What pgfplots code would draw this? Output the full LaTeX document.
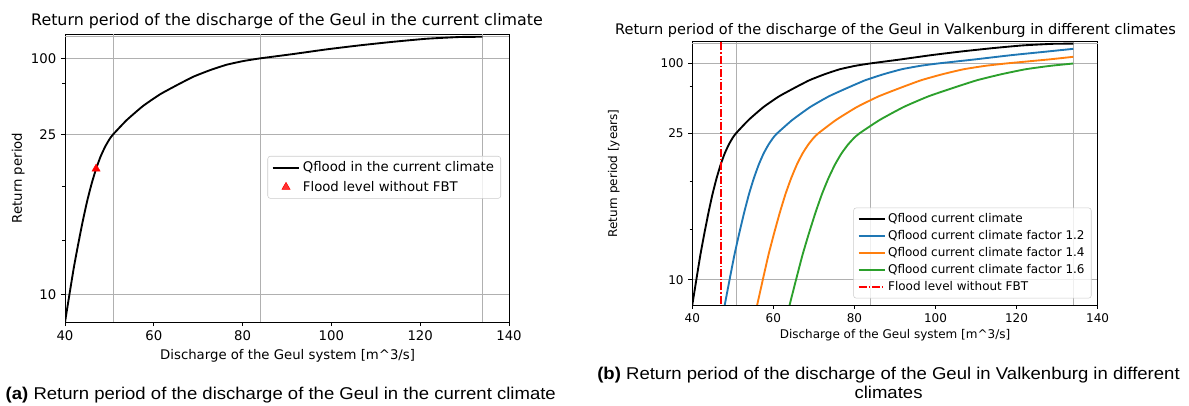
\documentclass[border=0pt]{standalone}
\usepackage{pgfplots}
\pgfplotsset{compat=1.18}
\usepackage{pgfplotstable}
\usepackage{fontspec}
\setmainfont{DejaVu Sans}
\newfontfamily\capfont{Liberation Sans}

\definecolor{mplblue}{HTML}{1F77B4}
\definecolor{mplorange}{HTML}{FF7F0E}
\definecolor{mplgreen}{HTML}{2CA02C}
\definecolor{gridgray}{HTML}{B0B0B0}

% Return period T [years] versus discharge Q [m^3/s]
\pgfplotstableread{
Q T
40 9.09
41 10.0
42 11.1
43 12.3
44 13.7
45 15.3
46 17.0
47 18.8
48 20.6
49 22.3
50 23.9
50.8 25.0
53.9 29.1
57.6 34.7
61.4 41.2
65.2 48.5
68.9 57.7
72.7 68.2
76.4 79.7
80.2 90.3
84 100
91.4 120.7
98.9 156
106.4 208
113.9 298
121.5 466
129 690
134 750
}\base

\pgfplotstableread{
Q T
48 9.09
49.2 10.0
50.4 11.1
51.6 12.3
52.8 13.7
54 15.3
55.2 17.0
56.4 18.8
57.6 20.6
58.8 22.3
60 23.9
60.96 25.0
64.68 29.1
69.12 34.7
73.68 41.2
78.24 48.5
82.68 57.7
87.24 68.2
91.68 79.7
96.24 90.3
100.8 100
109.68 120.7
118.68 156
127.68 208
134 275
}\fonetwo

\pgfplotstableread{
Q T
56 9.09
57.4 10.0
58.8 11.1
60.2 12.3
61.6 13.7
63 15.3
64.4 17.0
65.8 18.8
67.2 20.6
68.6 22.3
70 23.9
71.12 25.0
75.46 29.1
80.64 34.7
85.96 41.2
91.28 48.5
96.46 57.7
101.78 68.2
106.96 79.7
112.28 90.3
117.6 100
127.96 120.7
134 140
}\fonefour

\pgfplotstableread{
Q T
64 9.09
65.6 10.0
67.2 11.1
68.8 12.3
70.4 13.7
72 15.3
73.6 17.0
75.2 18.8
76.8 20.6
78.4 22.3
80 23.9
81.28 25.0
86.24 29.1
92.16 34.7
98.24 41.2
104.32 48.5
110.24 57.7
116.32 68.2
122.24 79.7
128.32 90.3
134 99.3
}\fonesix

\pgfplotsset{
  rp/.style={
    scale only axis,
    xmin=40, xmax=140,
    xtick={40,60,80,100,120,140},
    y dir=reverse,
    y filter/.expression={-ln(1-1/y)},
    ytick={0.010050,0.040822,0.105361},
    yticklabels={100,25,10},
    minor ytick={0.020203,0.061875,0.083382},
    ymajorgrids=true,
    grid style={gridgray, line width=0.9pt},
    extra x ticks={51,84,134},
    extra x tick labels={},
    extra x tick style={grid=major, major tick length=0pt},
    extra y ticks={0.001334},
    extra y tick labels={},
    extra y tick style={grid=major, major tick length=0pt},
    tick align=outside,
    tick pos=left,
    major tick length=3pt,
    minor tick length=2pt,
    axis line style={line width=0.6pt},
    tick style={line width=0.6pt, black},
    /pgf/number format/assume math mode=true,
    legend cell align=left,
    clip=true,
  },
  lineleg/.style={legend image code/.code={\draw[##1] (0pt,0pt) -- (#1,0pt);}},
  markleg/.style={legend image code/.code={\draw[##1] plot coordinates {(#1,0pt)};}},
}

\begin{document}
\begin{tikzpicture}
\useasboundingbox (0pt,0pt) rectangle (891.75pt,304.5pt);

% ---------- (a) ----------
\begin{axis}[rp,
  at={(48.75pt,63pt)}, anchor=south west,
  width=333pt, height=215.8pt,
  ymin=0.00035, ymax=0.1165,
  tick label style={font=\fontsize{9.95}{12}\selectfont},
  legend style={at={(0.982,0.577)}, anchor=north east,
    draw=black!20, rounded corners=2pt, fill=white, fill opacity=0.8, text opacity=1,
    font=\fontsize{9.95}{12}\selectfont, inner xsep=3pt, inner ysep=2pt, row sep=1.5pt},
]
\addplot[black, line width=1.4pt, smooth, tension=0.3, lineleg=20pt] table[x=Q, y=T] {\base};
\addlegendentry{Qflood in the current climate}
\addplot[only marks, mark=triangle*, red, mark size=3.5pt, markleg=10pt] coordinates {(47,18.8)};
\addlegendentry{Flood level without FBT}
\end{axis}

\node[anchor=base, font=\fontsize{11.9}{14}\selectfont] at (215.25pt,285pt) {Return period of the discharge of the Geul in the current climate};
\node[anchor=base, font=\fontsize{9.95}{12}\selectfont] at (215.7pt,34.5pt) {Discharge of the Geul system [m\textasciicircum 3/s]};
\node[rotate=90, anchor=base, font=\fontsize{9.95}{12}\selectfont] at (16.5pt,171pt) {Return period};

% ---------- (b) ----------
\begin{axis}[rp,
  at={(519.2pt,75.75pt)}, anchor=south west,
  width=304pt, height=197.5pt,
  ymin=0.0005, ymax=0.1165,
  tick label style={font=\fontsize{9}{11}\selectfont},
  legend style={at={(0.985,0.025)}, anchor=south east,
    draw=black!20, rounded corners=2pt, fill=white, fill opacity=0.8, text opacity=1,
    font=\fontsize{9}{11}\selectfont, inner xsep=3pt, inner ysep=2pt, row sep=0.5pt},
]
\addplot[black, line width=1.4pt, smooth, tension=0.3, lineleg=19.5pt] table[x=Q, y=T] {\base};
\addlegendentry{Qflood current climate}
\addplot[mplblue, line width=1.4pt, smooth, tension=0.3, lineleg=19.5pt] table[x=Q, y=T] {\fonetwo};
\addlegendentry{Qflood current climate factor 1.2}
\addplot[mplorange, line width=1.4pt, smooth, tension=0.3, lineleg=19.5pt] table[x=Q, y=T] {\fonefour};
\addlegendentry{Qflood current climate factor 1.4}
\addplot[mplgreen, line width=1.4pt, smooth, tension=0.3, lineleg=19.5pt] table[x=Q, y=T] {\fonesix};
\addlegendentry{Qflood current climate factor 1.6}
\addplot[red, line width=1.4pt, dash pattern=on 6pt off 1.5pt on 1pt off 1.5pt, lineleg=19.5pt] coordinates {(47,8) (47,5000)};
\addlegendentry{Flood level without FBT}
\end{axis}

\node[anchor=base, font=\fontsize{10.9}{13}\selectfont] at (671.6pt,278.8pt) {Return period of the discharge of the Geul in Valkenburg in different climates};
\node[anchor=base, font=\fontsize{9}{11}\selectfont] at (671.25pt,50.7pt) {Discharge of the Geul system [m\textasciicircum 3/s]};
\node[rotate=90, anchor=base, font=\fontsize{9}{11}\selectfont] at (462.75pt,174.45pt) {Return period [years]};

% ---------- captions ----------
\node[anchor=base, xscale=1.086, font=\capfont\fontsize{12.8}{15}\selectfont] at (210.6pt,5.0pt) {\textbf{(a)} Return period of the discharge of the Geul in the current climate};
\node[anchor=base, xscale=1.086, font=\capfont\fontsize{12.8}{15}\selectfont] at (666.4pt,19.5pt) {\textbf{(b)} Return period of the discharge of the Geul in Valkenburg in different};
\node[anchor=base, xscale=1.086, font=\capfont\fontsize{12.8}{15}\selectfont] at (666.4pt,5.25pt) {climates};
\end{tikzpicture}
\end{document}
